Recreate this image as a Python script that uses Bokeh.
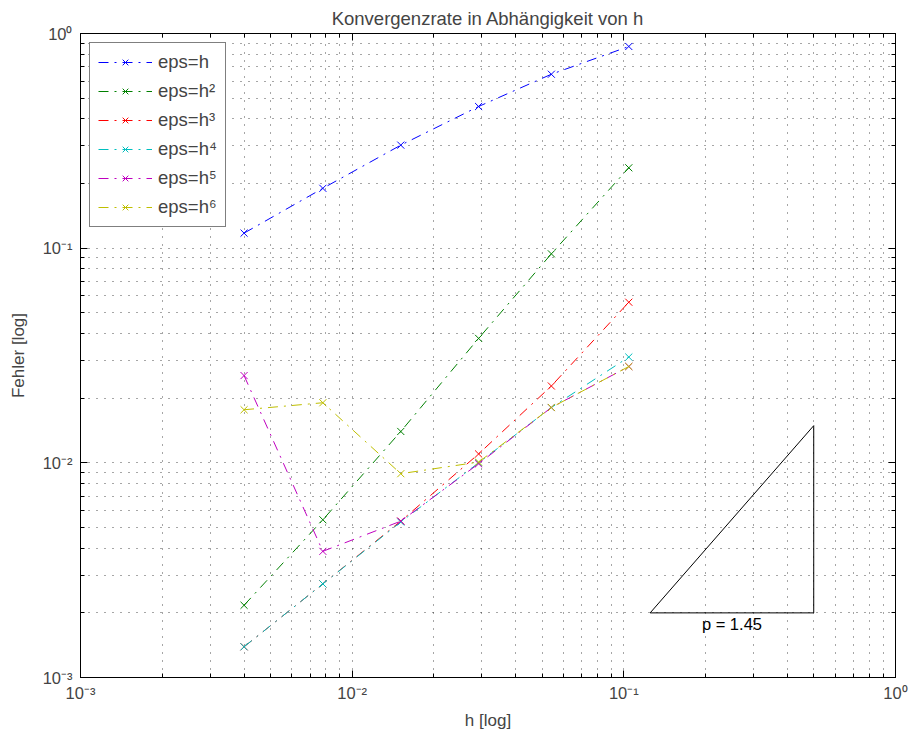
from bokeh.plotting import figure
from bokeh.models import FixedTicker, LogAxis, CustomJSTickFormatter
from bokeh.embed import file_html
from bokeh.resources import INLINE
from bokeh.core.properties import value

# ---- data ----
h = [0.0040, 0.0078, 0.0151, 0.0292, 0.0541, 0.1043]
err_eps_h1 = [0.1175, 0.190, 0.302, 0.457, 0.646, 0.870]
err_eps_h2 = [0.00217, 0.00543, 0.0140, 0.0380, 0.0941, 0.2368]
err_eps_h3 = [0.00139, 0.00273, 0.00535, 0.0110, 0.0228, 0.0560]
err_eps_h4 = [0.00139, 0.00273, 0.0053, 0.0100, 0.0181, 0.0311]
err_eps_h5 = [0.0255, 0.00387, 0.00535, 0.0099, 0.0181, 0.0281]
err_eps_h6 = [0.01767, 0.01905, 0.0089, 0.01008, 0.0181, 0.0281]
series_labels = ["eps=h", "eps=h\u00b2", "eps=h\u00b3", "eps=h\u2074", "eps=h\u2075", "eps=h\u2076"]
series_colors = ["#0000FF", "#008000", "#FF0000", "#00BFBF", "#BF00BF", "#BFBF00"]

decade_ticks = [1e-3, 1e-2, 1e-1, 1e0]
decade_labels = ["10\u207b\u00b3", "10\u207b\u00b2", "10\u207b\u00b9", "10\u2070"]

tri_x = [0.125, 0.5, 0.5, 0.125]
tri_y = [0.002, 0.002, 0.0149, 0.002]
slope_label_x = [0.25]
slope_label_y = [0.002]
slope_label = ["p = 1.45"]

FONT = "Liberation Sans"

p = figure(width=912, height=735, x_axis_type="log", y_axis_type="log",
           x_range=(1e-3, 1), y_range=(1e-3, 1),
           output_backend="svg", toolbar_location=None,
           min_border_left=80, min_border_right=17, min_border_top=33, min_border_bottom=58)

p.title.text = "Konvergenzrate in Abh\u00e4ngigkeit von h"
p.title.align = "center"
p.title.text_font = FONT
p.title.text_font_size = "18.5px"
p.title.text_font_style = "normal"
p.title.text_line_height = 0.7
p.title.standoff = 9
p.title.offset = 0

minor = [m * 10.0 ** e for e in (-3, -2, -1) for m in range(2, 10)]
ticker = FixedTicker(ticks=decade_ticks, minor_ticks=minor)
fmt = CustomJSTickFormatter(args=dict(labels=decade_labels),
                            code="return labels[Math.round(Math.log10(tick)) + 3];")

for ax in (p.xaxis[0], p.yaxis[0]):
    ax.ticker = ticker
    ax.formatter = fmt
    ax.major_label_text_font = FONT
    ax.major_label_text_font_size = "16.5px"
    ax.axis_label_text_font = FONT
    ax.axis_label_text_font_size = "17px"
    ax.axis_label_text_font_style = "normal"
    ax.major_tick_in = 7
    ax.major_tick_out = 0
    ax.minor_tick_in = 4
    ax.minor_tick_out = 0
    ax.axis_line_color = "black"
    ax.major_tick_line_color = "black"
    ax.minor_tick_line_color = "black"
p.xaxis[0].axis_label = "h [log]"
p.yaxis[0].axis_label = "Fehler [log]"
p.xaxis[0].major_label_standoff = 6
p.yaxis[0].major_label_standoff = 8
p.xaxis[0].axis_label_standoff = 6
p.yaxis[0].axis_label_standoff = 12

for loc in ("above", "right"):
    ax = LogAxis(ticker=ticker, major_label_text_font_size="0px", major_label_text_alpha=0,
                 major_label_standoff=0, major_tick_in=7, major_tick_out=0,
                 minor_tick_in=4, minor_tick_out=0, axis_line_color="black")
    p.add_layout(ax, loc)

for g in (p.xgrid[0], p.ygrid[0]):
    g.ticker = ticker
    g.grid_line_color = "black"
    g.grid_line_alpha = 0.7
    g.grid_line_dash = "1 7"
    g.minor_grid_line_color = "black"
    g.minor_grid_line_alpha = 0.7
    g.minor_grid_line_dash = "1 7"

p.outline_line_color = "black"
p.outline_line_width = 1

series = [err_eps_h1, err_eps_h2, err_eps_h3, err_eps_h4, err_eps_h5, err_eps_h6]
for ys, lab, col in zip(series, series_labels, series_colors):
    p.line(h, ys, line_color=col, line_width=1, line_dash="10 6 2 6", legend_label=lab)
    p.scatter(h, ys, marker="x", size=10, line_color=col, line_width=1, legend_label=lab)

p.line(tri_x, tri_y, line_color="black", line_width=1)
p.text(x=slope_label_x, y=slope_label_y, text=slope_label, text_align="center",
       text_baseline="top", y_offset=2, text_font=value(FONT), text_font_size="16.5px",
       text_color="black")

lg = p.legend[0]
lg.location = "top_left"
lg.margin = 9
lg.padding = 8
lg.spacing = 7
lg.glyph_width = 54
lg.glyph_height = 20
lg.label_height = 20
lg.label_standoff = 6
lg.label_text_font = FONT
lg.label_text_font_size = "18.5px"
lg.border_line_color = "black"
lg.border_line_width = 1
lg.background_fill_alpha = 1

open("out.html", "w").write(file_html(p, INLINE))
